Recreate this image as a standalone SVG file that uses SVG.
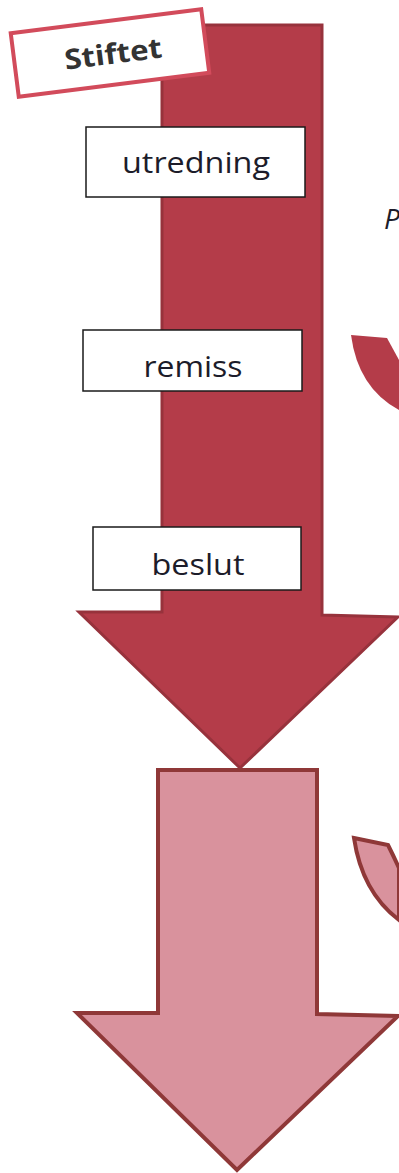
<svg xmlns="http://www.w3.org/2000/svg" width="399" height="1173" viewBox="0 0 399 1173">
<style>
.lbl{fill:#fff;stroke:#1a1a1a;stroke-width:1.5}
.t{font-family:"Open Sans","Noto Sans",sans-serif;font-size:30px;fill:#1c1c2a;text-anchor:middle}
.dark{fill:#b43c49;stroke:#97323c;stroke-width:3;stroke-linejoin:miter}
.light{fill:#d9929d;stroke:#8f3838;stroke-width:4;stroke-linejoin:miter}
</style>
<rect width="399" height="1173" fill="#fff"/>
<g id="connectors">
<path id="arrow-top" class="dark" d="M162,25 L322,25 L322,615 L398,617 L240,768 L79,612 L162,612 Z"/>
<path id="arrow-bottom" class="light" d="M158,770 L317,770 L317,1014 L398,1016 L237,1170 L77,1013 L158,1013 Z"/>
<path id="curve-top" fill="#b43c49" d="M351,335 L387,338 Q393,349 399,360 L399,410 Q358,388 351,335 Z"/>
<path id="curve-bottom" class="light" stroke-width="3" d="M354,838 L388,845 Q394,857 399,868 L399,920 Q362,892 354,838 Z"/>
</g>
<g id="stiftet" transform="rotate(-7.2 110 53)">
<rect x="14" y="21" width="192" height="64" fill="#fff" stroke="#d24b5b" stroke-width="4"/>
<text x="113" y="64" font-family="'Open Sans','Noto Sans',sans-serif" font-size="28" font-weight="bold" fill="#333" text-anchor="middle" textLength="98" lengthAdjust="spacingAndGlyphs">Stiftet</text>
</g>
<g id="utredning">
<rect class="lbl" x="86" y="127" width="219" height="70"/>
<text class="t" x="196" y="173" textLength="148" lengthAdjust="spacingAndGlyphs">utredning</text>
</g>
<g id="remiss">
<rect class="lbl" x="83" y="330" width="219" height="61"/>
<text class="t" x="193" y="377" textLength="99" lengthAdjust="spacingAndGlyphs">remiss</text>
</g>
<g id="beslut">
<rect class="lbl" x="93" y="527" width="208" height="63"/>
<text class="t" x="198" y="575" textLength="93" lengthAdjust="spacingAndGlyphs">beslut</text>
</g>
<g id="p-label">
<text x="384" y="229" font-family="'Open Sans','Noto Sans',sans-serif" font-size="28" font-style="italic" fill="#1c1c2a">P</text>
</g>
</svg>
